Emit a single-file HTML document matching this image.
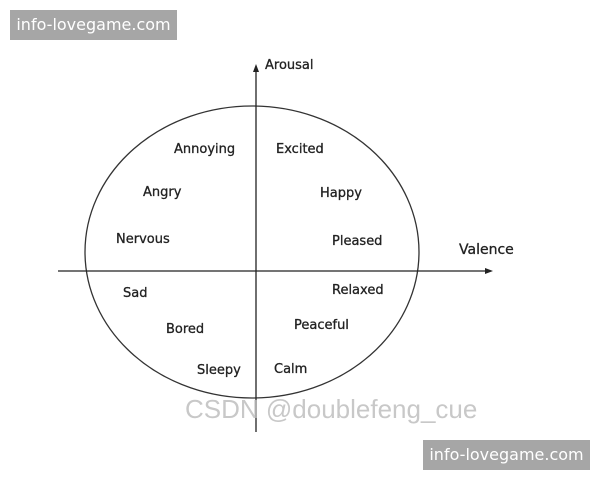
<!DOCTYPE html>
<html><head><style>
body{margin:0;background:#fff;}
.w{position:absolute;background:#a6a6a6;color:#fff;font:16px "DejaVu Sans",sans-serif;line-height:30px;text-align:center;width:167px;height:30px;}
</style></head><body>
<div style="position:relative;width:600px;height:480px;overflow:hidden;">
<svg width="600" height="480" style="position:absolute;left:0;top:0" font-family="DejaVu Sans, sans-serif" font-size="13" fill="#222">
<ellipse cx="252" cy="252" rx="167" ry="146" fill="none" stroke="#333" stroke-width="1.3"/>
<line x1="58" y1="271" x2="488" y2="271" stroke="#222" stroke-width="1.3"/>
<polygon points="493,271 485,268 485,274" fill="#222"/>
<line x1="256" y1="70" x2="256" y2="432" stroke="#222" stroke-width="1.3"/>
<polygon points="256,64 253,72 259,72" fill="#222"/>
<g stroke="#222" stroke-width="0.3">
<text x="265" y="69">Arousal</text>
<text x="459" y="254" font-size="14">Valence</text>
<text x="174" y="153">Annoying</text>
<text x="276" y="153">Excited</text>
<text x="143" y="196">Angry</text>
<text x="320" y="197">Happy</text>
<text x="116" y="243">Nervous</text>
<text x="332" y="245">Pleased</text>
<text x="123" y="297">Sad</text>
<text x="332" y="294">Relaxed</text>
<text x="166" y="333">Bored</text>
<text x="294" y="329">Peaceful</text>
<text x="197" y="374">Sleepy</text>
<text x="274" y="373">Calm</text>
</g>
<text x="185" y="418" font-size="26" fill="#bbb" font-family="Liberation Sans, sans-serif" opacity="0.8">CSDN @doublefeng_cue</text>
</svg>
<div class="w" style="left:10px;top:10px;">info-lovegame.com</div>
<div class="w" style="left:423px;top:440px;">info-lovegame.com</div>
</div>
</body></html>
